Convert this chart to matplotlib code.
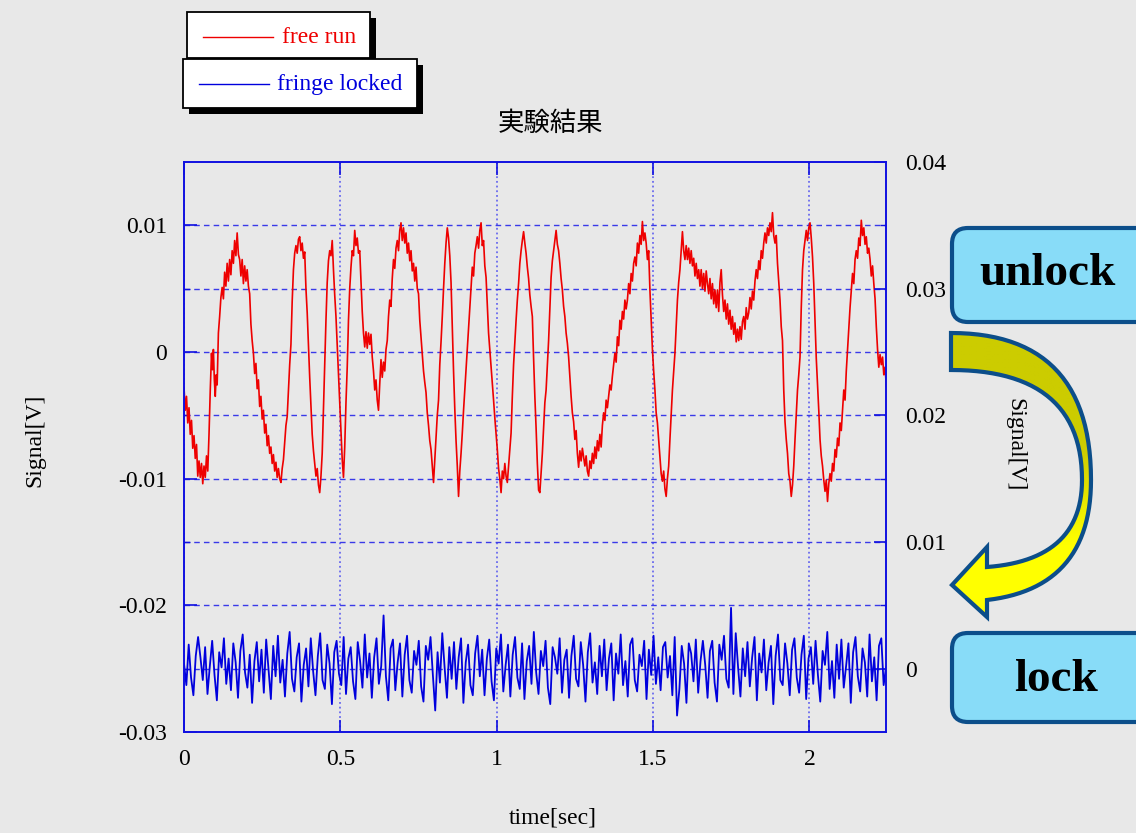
#!/usr/bin/env python3
# Fringe lock experiment: free-running vs locked interferometer signal
import numpy as np
import matplotlib
matplotlib.use("Agg")
import matplotlib.pyplot as plt
from matplotlib.patches import FancyBboxPatch, Rectangle, Polygon

BG = "#e8e8e8"
RED = "#ee0000"
BLUE = "#0000dd"
SPINE = "#1010e0"
GRID = "#3a3ae8"
BOX_FACE = "#88dcf8"
BOX_EDGE = "#0c4e8a"

# ---- data ----
series_names = ["free run", "fringe locked"]
title = "実験結果"

# free run trace, left axis, (time [s], signal [mV])
red_pts = [
    (0.000, -2.8), (0.004, -4.6), (0.008, -3.5), (0.012, -5.6), (0.016, -4.4), (0.020, -6.5), (0.024, -5.4),
    (0.028, -7.6), (0.032, -6.6), (0.036, -8.4), (0.040, -7.3), (0.044, -9.8), (0.048, -8.6), (0.052, -9.9),
    (0.056, -8.8), (0.060, -10.4), (0.064, -9.0), (0.068, -9.9), (0.072, -8.2), (0.076, -9.4), (0.080, -6.5),
    (0.084, -3.0), (0.088, -0.1), (0.091, -1.4), (0.094, 0.2), (0.097, -2.2), (0.100, -3.5), (0.103, -1.8),
    (0.106, -2.6), (0.110, 1.5), (0.114, 2.8), (0.118, 4.3), (0.122, 5.1), (0.126, 4.2), (0.130, 6.3),
    (0.134, 5.2), (0.138, 7.0), (0.142, 5.6), (0.146, 7.3), (0.150, 6.1), (0.154, 8.0), (0.158, 7.0),
    (0.162, 8.8), (0.166, 7.6), (0.170, 9.4), (0.174, 7.7), (0.178, 7.3), (0.182, 6.0), (0.186, 7.3),
    (0.190, 5.4), (0.194, 6.8), (0.198, 5.6), (0.202, 6.5), (0.206, 5.2), (0.210, 4.6), (0.214, 2.2),
    (0.218, 0.9), (0.222, -0.1), (0.226, -1.7), (0.230, -0.9), (0.234, -2.9), (0.238, -2.2), (0.242, -4.3),
    (0.246, -3.5), (0.250, -5.3), (0.254, -4.6), (0.258, -6.4), (0.262, -5.7), (0.266, -7.4), (0.270, -6.6),
    (0.274, -8.0), (0.278, -7.5), (0.282, -8.8), (0.286, -8.1), (0.290, -9.4), (0.294, -8.7), (0.298, -9.9),
    (0.302, -9.2), (0.306, -10.0), (0.310, -10.3), (0.314, -9.2), (0.318, -8.5), (0.322, -7.2), (0.326, -5.8),
    (0.330, -5.1), (0.334, -3.0), (0.338, -1.0), (0.342, 0.6), (0.346, 4.0), (0.350, 6.5), (0.354, 7.8),
    (0.358, 8.4), (0.362, 7.8), (0.366, 8.9), (0.370, 9.1), (0.374, 8.0), (0.378, 8.6), (0.382, 7.4),
    (0.386, 7.9), (0.390, 5.0), (0.394, 3.1), (0.398, 0.5), (0.402, -2.0), (0.406, -4.3), (0.410, -6.5),
    (0.414, -7.8), (0.418, -8.8), (0.422, -9.8), (0.426, -9.2), (0.430, -10.5), (0.434, -11.1), (0.438, -9.8),
    (0.442, -8.0), (0.446, -4.5), (0.450, -1.0), (0.454, 2.5), (0.458, 5.5), (0.462, 7.2), (0.466, 8.0),
    (0.470, 7.6), (0.474, 8.8), (0.478, 6.5), (0.482, 4.5), (0.486, 2.8), (0.490, 0.5), (0.494, -2.0),
    (0.498, -4.0), (0.502, -6.5), (0.506, -8.5), (0.510, -9.9), (0.514, -7.5), (0.518, -4.0), (0.522, -1.2),
    (0.526, 2.5), (0.530, 5.0), (0.534, 6.7), (0.538, 8.0), (0.542, 7.6), (0.546, 9.6), (0.550, 8.4),
    (0.554, 9.0), (0.558, 7.8), (0.562, 8.0), (0.566, 5.5), (0.570, 3.2), (0.574, 1.5), (0.578, 0.4),
    (0.582, 1.6), (0.586, 0.3), (0.590, 1.5), (0.594, 0.6), (0.598, 1.4), (0.602, -0.4), (0.606, -1.5),
    (0.610, -3.0), (0.614, -2.2), (0.618, -3.8), (0.622, -4.6), (0.626, -2.5), (0.630, -0.6), (0.634, -2.0),
    (0.638, -0.8), (0.642, -1.5), (0.646, 0.2), (0.650, 0.9), (0.654, 2.8), (0.658, 4.1), (0.662, 3.6),
    (0.666, 5.8), (0.670, 7.3), (0.674, 6.6), (0.678, 8.2), (0.682, 8.8), (0.686, 8.0), (0.690, 9.6),
    (0.694, 10.2), (0.698, 8.8), (0.702, 9.8), (0.706, 8.6), (0.710, 9.4), (0.714, 7.8), (0.718, 8.6),
    (0.722, 7.2), (0.726, 8.0), (0.730, 6.4), (0.734, 7.0), (0.738, 5.6), (0.742, 6.7), (0.746, 5.0),
    (0.750, 4.6), (0.754, 2.5), (0.758, 1.2), (0.762, 0.0), (0.766, -1.5), (0.770, -2.4), (0.774, -3.2),
    (0.778, -4.8), (0.782, -5.8), (0.786, -7.0), (0.790, -7.7), (0.794, -9.0), (0.798, -10.3), (0.802, -8.5),
    (0.806, -6.8), (0.810, -5.0), (0.814, -3.8), (0.818, -1.0), (0.822, 0.8), (0.826, 2.8), (0.830, 5.0),
    (0.834, 7.0), (0.838, 8.6), (0.842, 9.8), (0.846, 9.0), (0.850, 7.6), (0.854, 5.5), (0.858, 2.0),
    (0.862, -1.5), (0.866, -4.5), (0.870, -7.0), (0.874, -9.0), (0.878, -11.4), (0.882, -9.4), (0.886, -8.0),
    (0.890, -6.4), (0.894, -4.6), (0.898, -3.0), (0.902, -1.5), (0.906, 0.2), (0.910, 1.8), (0.914, 3.5),
    (0.918, 5.0), (0.922, 6.7), (0.926, 6.0), (0.930, 7.8), (0.934, 8.4), (0.938, 9.1), (0.942, 8.2),
    (0.946, 9.6), (0.950, 10.2), (0.954, 8.4), (0.958, 8.8), (0.962, 6.8), (0.966, 5.9), (0.970, 3.6),
    (0.974, 1.5), (0.978, 0.2), (0.982, -1.2), (0.986, -2.5), (0.990, -3.8), (0.994, -5.2), (0.998, -6.4),
    (1.002, -7.7), (1.006, -9.2), (1.010, -10.0), (1.014, -11.1), (1.018, -9.4), (1.022, -10.0), (1.026, -8.8),
    (1.030, -9.8), (1.034, -10.3), (1.038, -9.0), (1.042, -7.8), (1.046, -6.4), (1.050, -3.5), (1.054, -1.0),
    (1.058, 0.8), (1.062, 2.5), (1.066, 4.1), (1.070, 5.4), (1.074, 7.0), (1.078, 8.0), (1.082, 8.8),
    (1.086, 9.5), (1.090, 8.6), (1.094, 7.8), (1.098, 6.7), (1.102, 5.8), (1.106, 4.5), (1.110, 3.6),
    (1.114, 2.8), (1.118, -0.5), (1.122, -3.5), (1.126, -6.0), (1.130, -8.8), (1.134, -10.9), (1.138, -11.1),
    (1.142, -9.6), (1.146, -8.0), (1.150, -6.0), (1.154, -4.0), (1.158, -3.0), (1.162, -1.0), (1.166, 0.9),
    (1.170, 3.5), (1.174, 5.9), (1.178, 7.2), (1.182, 8.0), (1.186, 8.8), (1.190, 9.6), (1.194, 8.5),
    (1.198, 8.0), (1.202, 7.0), (1.206, 5.8), (1.210, 4.9), (1.214, 3.6), (1.218, 2.8), (1.222, 1.5),
    (1.226, 0.7), (1.230, -0.4), (1.234, -2.0), (1.238, -3.5), (1.242, -4.8), (1.246, -5.5), (1.250, -6.9),
    (1.254, -6.2), (1.258, -8.0), (1.262, -9.1), (1.266, -7.8), (1.270, -8.6), (1.274, -7.6), (1.278, -8.3),
    (1.282, -9.0), (1.286, -8.2), (1.290, -9.4), (1.294, -9.8), (1.298, -8.6), (1.302, -9.2), (1.306, -8.0),
    (1.310, -8.8), (1.314, -7.5), (1.318, -8.4), (1.322, -7.0), (1.326, -7.8), (1.330, -6.5), (1.334, -7.5),
    (1.338, -5.8), (1.342, -4.8), (1.346, -5.4), (1.350, -3.8), (1.354, -4.4), (1.358, -3.5), (1.362, -2.6),
    (1.366, -3.0), (1.370, -1.9), (1.374, -1.0), (1.378, -0.1), (1.382, -0.8), (1.386, 1.2), (1.390, 0.5),
    (1.394, 2.5), (1.398, 1.8), (1.402, 3.2), (1.406, 2.6), (1.410, 4.1), (1.414, 3.4), (1.418, 4.1),
    (1.422, 5.4), (1.426, 4.6), (1.430, 6.2), (1.434, 5.6), (1.438, 7.0), (1.442, 7.5), (1.446, 6.8),
    (1.450, 8.6), (1.454, 7.8), (1.458, 9.2), (1.462, 8.5), (1.466, 10.3), (1.470, 8.8), (1.474, 9.4),
    (1.478, 8.6), (1.482, 7.3), (1.486, 8.0), (1.490, 4.9), (1.494, 2.5), (1.498, 0.2), (1.502, -1.5),
    (1.506, -3.0), (1.510, -4.8), (1.514, -5.6), (1.518, -6.9), (1.522, -8.2), (1.526, -9.6), (1.530, -10.2),
    (1.534, -9.4), (1.538, -10.8), (1.542, -11.4), (1.546, -10.0), (1.550, -9.0), (1.554, -6.9), (1.558, -5.0),
    (1.562, -3.0), (1.566, -1.5), (1.570, -0.1), (1.574, 2.0), (1.578, 4.1), (1.582, 5.5), (1.586, 6.5),
    (1.590, 8.0), (1.594, 9.5), (1.598, 8.0), (1.602, 7.3), (1.606, 8.4), (1.610, 7.3), (1.614, 8.2),
    (1.618, 7.0), (1.622, 8.0), (1.626, 6.8), (1.630, 7.4), (1.634, 6.0), (1.638, 7.0), (1.642, 5.8),
    (1.646, 6.5), (1.650, 5.2), (1.654, 6.5), (1.658, 5.0), (1.662, 6.2), (1.666, 4.8), (1.670, 6.4),
    (1.674, 5.4), (1.678, 4.6), (1.682, 5.8), (1.686, 4.2), (1.690, 5.4), (1.694, 3.8), (1.698, 4.9),
    (1.702, 3.5), (1.706, 4.9), (1.710, 3.2), (1.714, 5.5), (1.718, 6.5), (1.722, 4.5), (1.726, 3.2),
    (1.730, 4.1), (1.734, 2.6), (1.738, 3.8), (1.742, 2.2), (1.746, 3.3), (1.750, 1.8), (1.754, 2.8),
    (1.758, 1.4), (1.762, 2.3), (1.766, 0.8), (1.770, 1.8), (1.774, 0.9), (1.778, 2.0), (1.782, 1.0),
    (1.786, 2.4), (1.790, 2.8), (1.794, 1.8), (1.798, 3.5), (1.802, 2.6), (1.806, 3.1), (1.810, 4.3),
    (1.814, 3.4), (1.818, 4.8), (1.822, 4.1), (1.826, 5.6), (1.830, 6.5), (1.834, 5.8), (1.838, 7.2),
    (1.842, 6.5), (1.846, 8.0), (1.850, 7.4), (1.854, 8.6), (1.858, 9.4), (1.862, 8.6), (1.866, 9.8),
    (1.870, 9.2), (1.874, 10.2), (1.878, 9.5), (1.882, 11.0), (1.886, 9.2), (1.890, 8.6), (1.894, 9.2),
    (1.898, 7.0), (1.902, 5.5), (1.906, 4.1), (1.910, 2.0), (1.914, 0.9), (1.918, -3.0), (1.922, -5.5),
    (1.926, -6.9), (1.930, -8.0), (1.934, -9.6), (1.938, -10.2), (1.942, -11.4), (1.946, -10.5), (1.950, -9.0),
    (1.954, -6.9), (1.958, -5.0), (1.962, -3.0), (1.966, -1.8), (1.970, -0.4), (1.974, 3.5), (1.978, 6.5),
    (1.982, 8.0), (1.986, 8.8), (1.990, 9.6), (1.994, 8.8), (1.998, 9.8), (2.002, 10.2), (2.006, 9.0),
    (2.010, 7.5), (2.014, 5.4), (2.018, 2.5), (2.022, -0.5), (2.026, -2.5), (2.030, -4.6), (2.034, -6.9),
    (2.038, -8.2), (2.042, -9.0), (2.046, -10.1), (2.050, -11.0), (2.054, -10.1), (2.058, -11.8), (2.062, -10.4),
    (2.066, -9.6), (2.070, -10.2), (2.074, -8.8), (2.078, -9.4), (2.082, -7.7), (2.086, -8.3), (2.090, -6.8),
    (2.094, -7.4), (2.098, -5.6), (2.102, -6.2), (2.106, -4.6), (2.110, -3.0), (2.114, -3.8), (2.118, -1.5),
    (2.122, 0.2), (2.126, 1.8), (2.130, 3.5), (2.134, 4.9), (2.138, 6.2), (2.142, 5.4), (2.146, 7.3),
    (2.150, 8.0), (2.154, 7.4), (2.158, 9.0), (2.162, 8.4), (2.166, 10.4), (2.170, 9.2), (2.174, 9.8),
    (2.178, 8.5), (2.182, 9.1), (2.186, 7.8), (2.190, 8.2), (2.194, 7.3), (2.198, 6.0), (2.202, 6.8),
    (2.206, 5.4), (2.210, 4.2), (2.214, 2.0), (2.218, 0.2), (2.222, -1.2), (2.226, -0.2), (2.230, -1.0),
    (2.234, -0.4), (2.238, -1.8), (2.242, -1.2), (2.246, -2.7),
]
red_t = [p[0] for p in red_pts]
red_mv = [p[1] for p in red_pts]

# fringe locked trace, right axis, signal [mV] (uniformly sampled over the record)
blue_mv = [
    0.4, -1.3, 1.9, -0.7, -2.1, 1.0, 2.5, 0.9, -0.9, 1.7, -2.0, 0.2, 2.2, -0.5, -2.5, 1.3, 0.1, 2.4, -1.2, 0.8,
    -1.7, 2.0, 0.5, -2.3, 1.4, 2.7, -0.3, -1.5, 1.1, -2.7, 0.6, 2.1, -1.0, 1.5, -1.9, 2.3, 0.0, -2.4, 1.8, -0.6,
    2.6, -1.1, 0.7, -2.2, 1.2, 2.9, -0.8, -1.8, 0.9, 2.0, -2.6, 0.3, 1.6, -1.4, 2.4, -0.2, -2.1, 1.0, 2.8, -0.9,
    -1.6, 1.9, 0.4, -2.8, 1.3, 2.2, -0.4, -1.3, 2.5, -2.0, 0.8, 1.7, -1.0, -2.4, 2.1, 0.6, -1.5, 2.7, -0.7, 1.2,
    -2.3, 0.9, 2.4, -1.2, 0.2, 4.2, -0.6, -2.5, 1.6, 2.3, -1.7, 0.5, 2.0, -2.2, 1.1, 2.6, -0.9, -1.9, 1.4, 0.3,
    2.2, -1.4, -2.6, 1.8, 0.7, 2.5, -0.5, -3.3, 1.3, -1.1, 2.8, 0.1, -2.3, 1.7, -0.8, 2.1, -1.6, 0.9, 2.4, -2.7,
    0.5, 1.9, -1.3, -2.1, 1.2, 2.6, -0.6, 1.5, -2.1, 0.8, 2.3, -1.0, -2.5, 1.6, 0.4, 2.7, -1.8, 0.3, 1.9, -2.2,
    1.1, 2.5, -0.7, -1.6, 2.0, -2.4, 0.6, 1.8, -1.2, 2.9, -0.3, -2.0, 1.4, 0.2, 2.2, -1.5, -2.8, 1.7, 0.9, -0.4,
    2.4, -1.9, 0.7, 1.5, -2.3, 1.0, 2.6, -0.8, -1.4, 2.1, 0.3, -2.6, 1.3, 2.8, -1.1, 0.5, -2.0, 1.8, -0.6, 2.3,
    -1.7, 0.8, 2.0, -2.5, 1.2, -0.4, 2.7, -1.3, 0.6, -2.2, 1.9, 2.4, -0.9, -1.8, 1.1, 0.2, 2.2, -2.4, 1.5, -0.5,
    2.6, -1.2, 0.9, -1.7, 1.7, 2.1, -0.7, 1.0, -2.1, 2.5, -3.7, -1.6, 1.8, 0.4, -2.7, 2.0, 1.2, -1.0, 2.3, -1.9,
    0.6, 2.2, 0.3, -2.3, 1.4, 2.2, -1.1, -2.6, 1.9, 0.7, 2.6, -0.8, -1.5, 4.8, -2.0, 2.8, 0.1, -2.2, 1.6, -0.6,
    2.1, -1.4, 0.9, 2.5, -2.5, 1.2, -0.3, 2.3, -1.7, 0.5, 1.8, -2.8, 1.0, 2.7, -0.9, -1.3, 2.0, 0.4, -2.1, 1.5,
    2.4, -0.7, -1.9, 1.1, 2.6, -2.4, 0.8, 1.7, -1.2, 2.2, -0.5, -2.6, 1.4, 0.3, 2.9, -1.6, 0.6, -2.3, 1.9, -0.8,
    2.3, -1.5, 0.2, 2.0, -2.7, 1.3, 2.5, -0.6, -1.8, 1.6, 0.5, -2.2, 2.7, -1.0, 0.9, -2.5, 1.8, 2.4, -1.3, 0.1,
]
t_end = 2.245
blue_t = np.linspace(0, t_end, len(blue_mv))

x_ticks = [0, 0.5, 1, 1.5, 2]
x_labels = ["0", "0.5", "1", "1.5", "2"]
left_ticks = [-0.03, -0.02, -0.01, 0, 0.01]
left_labels = ["-0.03", "-0.02", "-0.01", "0", "0.01"]
left_minor = [-0.025, -0.015, -0.005, 0.005]
right_ticks = [0, 0.01, 0.02, 0.03, 0.04]
right_labels = ["0", "0.01", "0.02", "0.03", "0.04"]
right_minor = [0.005, 0.015, 0.025, 0.035]

plt.rcParams["font.family"] = ["Liberation Serif", "Noto Sans CJK JP"]
plt.rcParams["axes.unicode_minus"] = False

W, H = 1136, 833
fig = plt.figure(figsize=(W / 100, H / 100), dpi=100, facecolor=BG)
ax = fig.add_axes([184 / W, 101 / H, 702 / W, 570 / H])
ax.set_facecolor("none")

ax.plot(red_t, np.array(red_mv) * 1e-3, color=RED, lw=1.2, label=series_names[0])
ax.set_xlim(0, t_end)
ax.set_ylim(-0.03, 0.015)
ax.set_xticks(x_ticks, labels=x_labels)
ax.set_yticks(left_ticks, labels=left_labels)
ax.set_yticks(left_minor, minor=True)

ax.grid(True, axis="y", which="both", color=GRID, lw=1.0, ls=(0, (4, 3)))
ax.grid(True, axis="x", which="major", color="#6a6aee", lw=1.3, ls=(0, (1, 1.6)))

ax2 = ax.twinx()
ax2.plot(blue_t, np.array(blue_mv) * 1e-3, color=BLUE, lw=1.3, label=series_names[1])
ax2.set_ylim(-0.005, 0.04)
ax2.set_yticks(right_ticks, labels=right_labels)
ax2.set_yticks(right_minor, minor=True)

for a in (ax, ax2):
    for sp in a.spines.values():
        sp.set_color(SPINE)
        sp.set_linewidth(1.2)
    a.tick_params(which="major", direction="in", length=9, width=1.2, color=SPINE, labelsize=17)
    a.tick_params(which="minor", direction="in", length=4, width=1.0, color=SPINE)
ax.tick_params(axis="x", top=True, pad=12)
ax.tick_params(axis="y", pad=12)
ax2.tick_params(axis="y", pad=14)

ax.set_xlabel("time[sec]", fontsize=17)
ax.xaxis.set_label_coords((553 - 184) / 702, (732 - 818) / 570)
ax.xaxis.label.set_va("center")
ax.set_ylabel("Signal[V]", fontsize=17)
ax.yaxis.set_label_coords((35 - 184) / 702, (732 - 440) / 570)
ax.yaxis.label.set_va("center")
ax2.set_ylabel("Signal[V]", fontsize=17, rotation=270)
ax2.yaxis.set_label_coords((1015 - 184) / 702, (732 - 445) / 570)
ax2.yaxis.label.set_va("center")

fig.text(550 / W, 1 - 123 / H, title, ha="center", va="center", fontsize=19,
         family=["Noto Sans CJK JP", "DejaVu Sans"])

# ---- overlay in pixel coordinates: legend boxes, unlock/lock callouts, arrow ----
ov = fig.add_axes([0, 0, 1, 1], zorder=5)
ov.set_xlim(0, W)
ov.set_ylim(H, 0)
ov.axis("off")
ov.patch.set_visible(False)

legend_boxes = [(187, 12, 183, 46), (183, 59, 234, 49)]
legend_rows = [(203, 273, 37, 282, RED), (199, 269, 84, 277, BLUE)]
for (bx, by, bw, bh), (x0, x1, yy, tx, col), name in zip(legend_boxes, legend_rows, series_names):
    ov.add_patch(Rectangle((bx + 6, by + 6), bw, bh, facecolor="black", edgecolor="none"))
    ov.add_patch(Rectangle((bx, by), bw, bh, facecolor="white", edgecolor="black", lw=1.3))
    ov.plot([x0, x1], [yy, yy], color=col, lw=1.0)
    ov.text(tx, yy, name, color=col, fontsize=17, va="center", ha="left")

for (bx, by, bh), word, (tx, ty) in [((952, 228, 94), "unlock", (1047, 274)),
                                     ((952, 633, 89), "lock", (1056, 680))]:
    ov.add_patch(FancyBboxPatch((bx, by), 260, bh, boxstyle="round,pad=0,rounding_size=16",
                                facecolor=BOX_FACE, edgecolor=BOX_EDGE, lw=3))
    ov.text(tx, ty, word, fontsize=34, fontweight="bold", ha="center", va="center")


def qbez(p0, p1, p2, n=30):
    s = np.linspace(0, 1, n)[:, None]
    return (1 - s) ** 2 * np.array(p0) + 2 * s * (1 - s) * np.array(p1) + s ** 2 * np.array(p2)


outer_up = qbez((951, 333), (1091, 333), (1091, 480))
outer_lo = qbez((1091, 480), (1091, 588), (987, 600))
inner_lo = qbez((1082, 480), (1082, 560), (987, 567))
inner_up = qbez((951, 370), (1082, 370), (1082, 480))
head = np.array([(987, 617), (952, 585), (987, 547)])
arrow_xy = np.vstack([outer_up, outer_lo, head, inner_lo[::-1], inner_up[::-1]])

arrow = Polygon(arrow_xy, closed=True, facecolor="none", edgecolor=BOX_EDGE, lw=3, joinstyle="miter")
ov.add_patch(arrow)
grad = np.linspace(0, 1, 200)
olive = np.array([0.80, 0.80, 0.0])
yellow = np.array([1.0, 1.0, 0.0])
w = np.clip((grad - 0.4) / 0.3, 0, 1)[:, None]
img = (olive * (1 - w) + yellow * w)[:, None, :]
im = ov.imshow(img, extent=(940, 1100, 640, 320), aspect="auto", origin="upper", zorder=1)
im.set_clip_path(arrow)
arrow.set_zorder(2)
ov.set_xlim(0, W)
ov.set_ylim(H, 0)

fig.savefig("out.png", dpi=100, facecolor=BG)
